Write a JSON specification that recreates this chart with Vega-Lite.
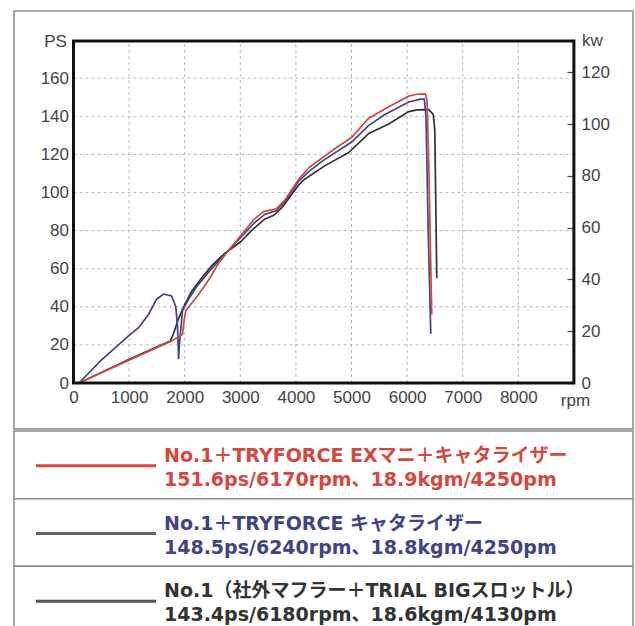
{
  "$schema": "https://vega.github.io/schema/vega-lite/v6.json",
  "padding": {"left": 13, "top": 10, "right": 0, "bottom": 0},
  "background": "white",
  "spacing": 0,
  "config": {"font": "Liberation Sans"},
  "datasets": {
    "curves": [
      {"series": "base", "rpm": 100, "ps": 0}, {"series": "base", "rpm": 1000, "ps": 12.5}, {"series": "base", "rpm": 1740, "ps": 22}, {"series": "base", "rpm": 1800, "ps": 26}, {"series": "base", "rpm": 1880, "ps": 33}, {"series": "base", "rpm": 1950, "ps": 38}, {"series": "base", "rpm": 2050, "ps": 44}, {"series": "base", "rpm": 2124, "ps": 48}, {"series": "base", "rpm": 2300, "ps": 55}, {"series": "base", "rpm": 2500, "ps": 62}, {"series": "base", "rpm": 2718, "ps": 68}, {"series": "base", "rpm": 3000, "ps": 74}, {"series": "base", "rpm": 3200, "ps": 80}, {"series": "base", "rpm": 3438, "ps": 86}, {"series": "base", "rpm": 3600, "ps": 88}, {"series": "base", "rpm": 3750, "ps": 92}, {"series": "base", "rpm": 3900, "ps": 98}, {"series": "base", "rpm": 4050, "ps": 104}, {"series": "base", "rpm": 4158, "ps": 107}, {"series": "base", "rpm": 4518, "ps": 114}, {"series": "base", "rpm": 4950, "ps": 121}, {"series": "base", "rpm": 5310, "ps": 131}, {"series": "base", "rpm": 5670, "ps": 136}, {"series": "base", "rpm": 6030, "ps": 142.5}, {"series": "base", "rpm": 6180, "ps": 143.4}, {"series": "base", "rpm": 6390, "ps": 143.5}, {"series": "base", "rpm": 6470, "ps": 141}, {"series": "base", "rpm": 6498, "ps": 133}, {"series": "base", "rpm": 6534, "ps": 55},
      {"series": "cat", "rpm": 100, "ps": 0}, {"series": "cat", "rpm": 500, "ps": 12}, {"series": "cat", "rpm": 990, "ps": 24.7}, {"series": "cat", "rpm": 1170, "ps": 29}, {"series": "cat", "rpm": 1350, "ps": 36}, {"series": "cat", "rpm": 1494, "ps": 44}, {"series": "cat", "rpm": 1620, "ps": 46.7}, {"series": "cat", "rpm": 1764, "ps": 45.7}, {"series": "cat", "rpm": 1840, "ps": 40}, {"series": "cat", "rpm": 1870, "ps": 30}, {"series": "cat", "rpm": 1890, "ps": 12.6}, {"series": "cat", "rpm": 1910, "ps": 22}, {"series": "cat", "rpm": 1960, "ps": 38}, {"series": "cat", "rpm": 2050, "ps": 43}, {"series": "cat", "rpm": 2200, "ps": 50}, {"series": "cat", "rpm": 2450, "ps": 59}, {"series": "cat", "rpm": 2700, "ps": 67}, {"series": "cat", "rpm": 3024, "ps": 77}, {"series": "cat", "rpm": 3250, "ps": 84}, {"series": "cat", "rpm": 3438, "ps": 88.5}, {"series": "cat", "rpm": 3650, "ps": 90.5}, {"series": "cat", "rpm": 3800, "ps": 95}, {"series": "cat", "rpm": 4050, "ps": 106}, {"series": "cat", "rpm": 4230, "ps": 111}, {"series": "cat", "rpm": 4500, "ps": 117}, {"series": "cat", "rpm": 5004, "ps": 126.5}, {"series": "cat", "rpm": 5300, "ps": 135}, {"series": "cat", "rpm": 5600, "ps": 141}, {"series": "cat", "rpm": 6030, "ps": 147.5}, {"series": "cat", "rpm": 6240, "ps": 149}, {"series": "cat", "rpm": 6310, "ps": 149}, {"series": "cat", "rpm": 6340, "ps": 140}, {"series": "cat", "rpm": 6380, "ps": 80}, {"series": "cat", "rpm": 6426, "ps": 25.7},
      {"series": "ex", "rpm": 100, "ps": 0}, {"series": "ex", "rpm": 1000, "ps": 12}, {"series": "ex", "rpm": 1764, "ps": 22}, {"series": "ex", "rpm": 1900, "ps": 24.5}, {"series": "ex", "rpm": 1960, "ps": 25.5}, {"series": "ex", "rpm": 1990, "ps": 33}, {"series": "ex", "rpm": 2020, "ps": 38}, {"series": "ex", "rpm": 2100, "ps": 41}, {"series": "ex", "rpm": 2250, "ps": 46.5}, {"series": "ex", "rpm": 2450, "ps": 55}, {"series": "ex", "rpm": 2610, "ps": 63}, {"series": "ex", "rpm": 2800, "ps": 70}, {"series": "ex", "rpm": 3024, "ps": 78}, {"series": "ex", "rpm": 3250, "ps": 86}, {"series": "ex", "rpm": 3420, "ps": 90}, {"series": "ex", "rpm": 3650, "ps": 91.5}, {"series": "ex", "rpm": 3800, "ps": 96}, {"series": "ex", "rpm": 4050, "ps": 107}, {"series": "ex", "rpm": 4230, "ps": 113}, {"series": "ex", "rpm": 4464, "ps": 118}, {"series": "ex", "rpm": 4700, "ps": 123}, {"series": "ex", "rpm": 5004, "ps": 129}, {"series": "ex", "rpm": 5310, "ps": 139}, {"series": "ex", "rpm": 5670, "ps": 145}, {"series": "ex", "rpm": 6030, "ps": 150.6}, {"series": "ex", "rpm": 6170, "ps": 151.6}, {"series": "ex", "rpm": 6330, "ps": 151.8}, {"series": "ex", "rpm": 6360, "ps": 148}, {"series": "ex", "rpm": 6390, "ps": 115}, {"series": "ex", "rpm": 6420, "ps": 70}, {"series": "ex", "rpm": 6444, "ps": 36}
    ],
    "vgrid": [{"rpm": 1000}, {"rpm": 2000}, {"rpm": 3000}, {"rpm": 4000}, {"rpm": 5000}, {"rpm": 6000}, {"rpm": 7000}, {"rpm": 8000}],
    "hgrid": [{"ps": 20}, {"ps": 40}, {"ps": 60}, {"ps": 80}, {"ps": 100}, {"ps": 120}, {"ps": 140}, {"ps": 160}],
    "legend": [
      {"series": "ex", "name": "No.1＋TRYFORCE EXマニ＋キャタライザー", "spec": "151.6ps/6170rpm、18.9kgm/4250pm"},
      {"series": "cat", "name": "No.1＋TRYFORCE キャタライザー", "spec": "148.5ps/6240rpm、18.8kgm/4250pm"},
      {"series": "base", "name": "No.1（社外マフラー＋TRIAL BIGスロットル）", "spec": "143.4ps/6180rpm、18.6kgm/4130pm"}
    ]
  },
  "vconcat": [
    {
      "width": 619,
      "height": 418,
      "view": {"stroke": "#8c8c8c", "strokeWidth": 1.5},
      "layer": [
        {
          "layer": [
            {
              "data": {"name": "vgrid"},
              "mark": {"type": "rule", "stroke": "#b8b8b8", "strokeWidth": 1, "strokeDash": [3, 3]},
              "encoding": {
                "x": {"field": "rpm", "type": "quantitative", "scale": {"domain": [-1070, 10063], "nice": false, "zero": false},
                  "axis": {"values": [0, 1000, 2000, 3000, 4000, 5000, 6000, 7000, 8000], "format": "d", "offset": -46, "domain": false, "ticks": false, "grid": false, "labelPadding": 6, "labelFontSize": 17, "labelColor": "#444", "labelFlush": false, "labelOverlap": false,
                    "title": "rpm", "titleX": 561, "titleY": 17, "titleAlign": "center", "titleBaseline": "middle", "titleFontWeight": "normal", "titleFontSize": 17, "titleColor": "#444"}},
                "y": {"datum": 0, "type": "quantitative", "scale": {"domain": [-24.15, 195.3], "nice": false, "zero": false},
                  "axis": {"orient": "left", "values": [0, 20, 40, 60, 80, 100, 120, 140, 160], "offset": -59.5, "domain": false, "ticks": false, "grid": false, "labelPadding": 5, "labelFontSize": 17, "labelColor": "#444", "labelFlush": false, "labelOverlap": false,
                    "title": "PS", "titleAngle": 0, "titleX": -18.5, "titleY": 30, "titleAlign": "center", "titleBaseline": "middle", "titleFontWeight": "normal", "titleFontSize": 17, "titleColor": "#444"}},
                "y2": {"datum": 179.5}
              }
            },
            {
              "data": {"name": "hgrid"},
              "mark": {"type": "rule", "stroke": "#b8b8b8", "strokeWidth": 1, "strokeDash": [3, 3]},
              "encoding": {
                "y": {"field": "ps", "type": "quantitative", "scale": {"domain": [-24.15, 195.3], "nice": false, "zero": false},
                  "axis": {"orient": "left", "values": [0, 20, 40, 60, 80, 100, 120, 140, 160], "offset": -59.5, "domain": false, "ticks": false, "grid": false, "labelPadding": 5, "labelFontSize": 17, "labelColor": "#444", "labelFlush": false, "labelOverlap": false,
                    "title": "PS", "titleAngle": 0, "titleX": -18.5, "titleY": 30, "titleAlign": "center", "titleBaseline": "middle", "titleFontWeight": "normal", "titleFontSize": 17, "titleColor": "#444"}},
                "x": {"datum": 0, "type": "quantitative", "scale": {"domain": [-1070, 10063], "nice": false, "zero": false},
                  "axis": {"values": [0, 1000, 2000, 3000, 4000, 5000, 6000, 7000, 8000], "format": "d", "offset": -46, "domain": false, "ticks": false, "grid": false, "labelPadding": 6, "labelFontSize": 17, "labelColor": "#444", "labelFlush": false, "labelOverlap": false,
                    "title": "rpm", "titleX": 561, "titleY": 17, "titleAlign": "center", "titleBaseline": "middle", "titleFontWeight": "normal", "titleFontSize": 17, "titleColor": "#444"}},
                "x2": {"datum": 9000}
              }
            },
            {
              "data": {"name": "curves"},
              "mark": {"type": "line", "strokeWidth": 1.7},
              "encoding": {
                "x": {"field": "rpm", "type": "quantitative", "scale": {"domain": [-1070, 10063], "nice": false, "zero": false},
                  "axis": {"values": [0, 1000, 2000, 3000, 4000, 5000, 6000, 7000, 8000], "format": "d", "offset": -46, "domain": false, "ticks": false, "grid": false, "labelPadding": 6, "labelFontSize": 17, "labelColor": "#444", "labelFlush": false, "labelOverlap": false,
                    "title": "rpm", "titleX": 561, "titleY": 17, "titleAlign": "center", "titleBaseline": "middle", "titleFontWeight": "normal", "titleFontSize": 17, "titleColor": "#444"}},
                "y": {"field": "ps", "type": "quantitative", "scale": {"domain": [-24.15, 195.3], "nice": false, "zero": false},
                  "axis": {"orient": "left", "values": [0, 20, 40, 60, 80, 100, 120, 140, 160], "offset": -59.5, "domain": false, "ticks": false, "grid": false, "labelPadding": 5, "labelFontSize": 17, "labelColor": "#444", "labelFlush": false, "labelOverlap": false,
                    "title": "PS", "titleAngle": 0, "titleX": -18.5, "titleY": 30, "titleAlign": "center", "titleBaseline": "middle", "titleFontWeight": "normal", "titleFontSize": 17, "titleColor": "#444"}},
                "color": {"field": "series", "type": "nominal", "scale": {"domain": ["base", "cat", "ex"], "range": ["#333333", "#3f4583", "#d4493f"]}, "legend": null}
              }
            }
          ]
        },
        {
          "data": {"values": [{}]},
          "mark": {"type": "rect", "fillOpacity": 0, "stroke": "#111", "strokeWidth": 3},
          "encoding": {
            "x": {"datum": 0, "type": "quantitative", "scale": {"domain": [-1070, 10063], "nice": false, "zero": false},
              "axis": {"values": [0, 1000, 2000, 3000, 4000, 5000, 6000, 7000, 8000], "format": "d", "offset": -46, "domain": false, "ticks": false, "grid": false, "labelPadding": 6, "labelFontSize": 17, "labelColor": "#444", "labelFlush": false, "labelOverlap": false,
                "title": "rpm", "titleX": 561, "titleY": 17, "titleAlign": "center", "titleBaseline": "middle", "titleFontWeight": "normal", "titleFontSize": 17, "titleColor": "#444"}},
            "x2": {"datum": 9000},
            "y": {"datum": 0, "type": "quantitative", "scale": {"domain": [-17.762, 143.643], "nice": false, "zero": false},
              "axis": {"orient": "right", "values": [0, 20, 40, 60, 80, 100, 120], "offset": -59, "domain": false, "ticks": true, "tickSize": -7, "tickColor": "#444", "tickWidth": 1.2, "grid": false, "labelPadding": 14, "labelFontSize": 17, "labelColor": "#444", "labelFlush": false, "labelOverlap": false,
                "title": "kw", "titleAngle": 0, "titleX": 18, "titleY": 29, "titleAlign": "center", "titleBaseline": "middle", "titleFontWeight": "normal", "titleFontSize": 17, "titleColor": "#444"}},
            "y2": {"datum": 132.02}
          }
        }
      ],
      "resolve": {"scale": {"y": "independent"}}
    },
    {
      "width": 619,
      "height": 203,
      "view": {"stroke": null},
      "data": {"name": "legend"},
      "layer": [
        {
          "mark": {"type": "rect", "fill": "white", "stroke": "#8c8c8c", "strokeWidth": 1.5},
          "encoding": {
            "y": {"field": "name", "type": "nominal", "sort": null, "scale": {"type": "band", "paddingInner": 0, "paddingOuter": 0}, "axis": null},
            "x": {"datum": 0, "type": "quantitative", "scale": {"domain": [0, 1], "nice": false, "zero": false}, "axis": null},
            "x2": {"datum": 1}
          }
        },
        {
          "mark": {"type": "rule", "strokeWidth": 3, "yOffset": 1},
          "encoding": {
            "y": {"field": "name", "type": "nominal", "sort": null, "bandPosition": 0.5, "axis": null},
            "x": {"datum": 0.0355, "type": "quantitative", "axis": null},
            "x2": {"datum": 0.2294},
            "stroke": {"field": "series", "type": "nominal", "scale": {"domain": ["ex", "cat", "base"], "range": ["#d84a40", "#62656f", "#555555"]}, "legend": null}
          }
        },
        {
          "mark": {"type": "text", "align": "left", "baseline": "alphabetic", "dy": -3, "font": "DejaVu Sans, Noto Sans CJK JP", "fontWeight": "bold", "fontSize": 19},
          "encoding": {
            "y": {"field": "name", "type": "nominal", "sort": null, "bandPosition": 0.5, "axis": null},
            "x": {"datum": 0.2423, "type": "quantitative", "axis": null},
            "text": {"field": "name"},
            "color": {"field": "series", "type": "nominal", "scale": {"domain": ["ex", "cat", "base"], "range": ["#c9432e", "#3b3f6e", "#2a2a2a"]}, "legend": null}
          }
        },
        {
          "mark": {"type": "text", "align": "left", "baseline": "alphabetic", "dy": 21, "font": "DejaVu Sans, Noto Sans CJK JP", "fontWeight": "bold", "fontSize": 19},
          "encoding": {
            "y": {"field": "name", "type": "nominal", "sort": null, "bandPosition": 0.5, "axis": null},
            "x": {"datum": 0.2423, "type": "quantitative", "axis": null},
            "text": {"field": "spec"},
            "color": {"field": "series", "type": "nominal", "scale": {"domain": ["ex", "cat", "base"], "range": ["#c9432e", "#3b3f6e", "#2a2a2a"]}, "legend": null}
          }
        }
      ]
    }
  ]
}
